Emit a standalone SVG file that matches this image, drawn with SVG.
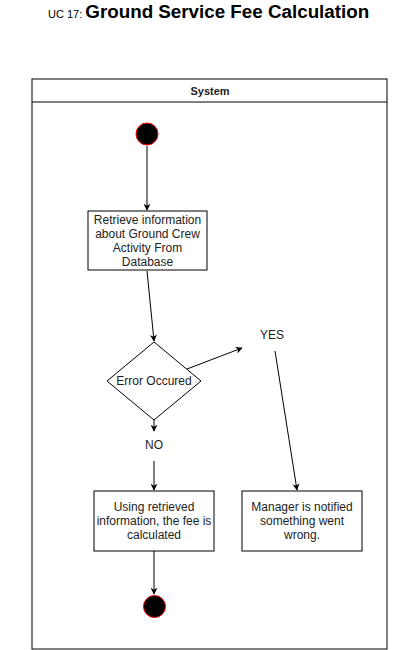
<svg xmlns="http://www.w3.org/2000/svg" width="420" height="650" viewBox="0 0 420 650">
<defs>
<marker id="ah" viewBox="0 0 10 10" refX="9" refY="5" markerWidth="7" markerHeight="7" orient="auto" markerUnits="userSpaceOnUse">
<path d="M0,0 L10,5 L0,10 L3,5 Z" fill="#000"/>
</marker>
<style>
.t{font-family:"Liberation Sans",Arial,sans-serif;font-size:12px;fill:#222;text-anchor:middle}
.box{fill:#fff;stroke:#000;stroke-width:1}
.ln{fill:none;stroke:#000;stroke-width:1;marker-end:url(#ah)}
.dot{fill:#000;stroke:#ff0000;stroke-width:1}
</style>
</defs>
<rect width="420" height="650" fill="#fff"/>
<g id="title">
<text x="48" y="18" font-family="Liberation Sans,Arial,sans-serif" font-size="11" fill="#000">UC 17: <tspan font-size="18.8" font-weight="bold">Ground Service Fee Calculation</tspan></text>
</g>
<g id="system">
<rect x="32" y="79" width="355" height="570" fill="none" stroke="#000" stroke-width="1"/>
<line x1="32" y1="102" x2="387" y2="102" stroke="#000" stroke-width="1"/>
<text x="210" y="95" class="t" font-weight="bold" style="font-size:11px">System</text>
</g>
<g id="connectors">
<line class="ln" x1="147" y1="146" x2="147" y2="210"/>
<line class="ln" x1="147" y1="271" x2="154" y2="341"/>
<line class="ln" x1="154" y1="420" x2="154" y2="431"/>
<line class="ln" x1="187" y1="369" x2="242" y2="348"/>
<line class="ln" x1="275" y1="351" x2="297" y2="490"/>
<line class="ln" x1="154" y1="461" x2="154" y2="490"/>
<line class="ln" x1="154" y1="551" x2="154" y2="594"/>
</g>
<g id="start"><circle class="dot" cx="147" cy="134" r="11"/></g>
<g id="retrieve">
<rect class="box" x="88" y="211" width="119" height="59"/>
<text class="t" x="147.5" y="224">Retrieve information</text>
<text class="t" x="147.5" y="238">about Ground Crew</text>
<text class="t" x="147.5" y="252">Activity From</text>
<text class="t" x="147.5" y="266">Database</text>
</g>
<g id="decision">
<polygon class="box" points="154,342 201,381 154,420 107,381"/>
<text class="t" x="154" y="385">Error Occured</text>
</g>
<g id="yes"><text class="t" x="272" y="339">YES</text></g>
<g id="no"><text class="t" x="154" y="449">NO</text></g>
<g id="calculate">
<rect class="box" x="94" y="491" width="120" height="60"/>
<text class="t" x="154" y="511">Using retrieved</text>
<text class="t" x="154" y="525">information, the fee is</text>
<text class="t" x="154" y="539">calculated</text>
</g>
<g id="notify">
<rect class="box" x="242" y="491" width="120" height="60"/>
<text class="t" x="302" y="511">Manager is notified</text>
<text class="t" x="302" y="525">something went</text>
<text class="t" x="302" y="539">wrong.</text>
</g>
<g id="end"><circle class="dot" cx="154.5" cy="606.5" r="11"/></g>
</svg>
